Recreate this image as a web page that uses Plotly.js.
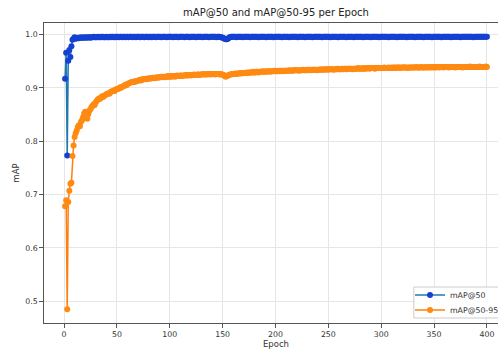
<!DOCTYPE html>
<html>
<head>
<meta charset="utf-8">
<script src="https://cdn.plot.ly/plotly-3.0.1.min.js"></script>
<style>
html,body{margin:0;padding:0;overflow:hidden;background:#fff;}
#wrap{position:relative;width:498px;height:350px;overflow:hidden;}
#chart{position:absolute;left:0;top:0;width:520px;height:350px;}
</style>
</head>
<body>
<div id="wrap"><div id="chart"></div></div>
<script>
const seriesNames = ["mAP@50", "mAP@50-95"];
const xTicks = [0, 50, 100, 150, 200, 250, 300, 350, 400];
const yTicks = [0.5, 0.6, 0.7, 0.8, 0.9, 1.0];

const mAP50 = [
0.917,0.966,0.773,0.951,0.971,0.958,0.978,0.990,0.992,0.995,
0.992,0.993,0.994,0.993,0.994,0.995,0.994,0.994,0.995,0.994,
0.995,0.994,0.995,0.995,0.994,0.995,0.995,0.996,0.995,0.995,
0.995,0.996,0.995,0.995,0.996,0.995,0.996,0.995,0.995,0.996,
0.995,0.995,0.996,0.995,0.996,0.996,0.995,0.996,0.995,0.996,
0.996,0.995,0.996,0.996,0.995,0.996,0.996,0.995,0.996,0.996,
0.995,0.996,0.996,0.996,0.995,0.996,0.996,0.995,0.996,0.996,
0.996,0.995,0.996,0.996,0.996,0.995,0.996,0.996,0.996,0.995,
0.996,0.996,0.995,0.996,0.996,0.996,0.995,0.996,0.996,0.996,
0.996,0.995,0.996,0.996,0.996,0.996,0.995,0.996,0.996,0.996,
0.996,0.996,0.995,0.996,0.996,0.996,0.996,0.995,0.996,0.996,
0.996,0.996,0.996,0.995,0.996,0.996,0.996,0.996,0.995,0.996,
0.996,0.996,0.996,0.996,0.995,0.996,0.996,0.996,0.996,0.996,
0.995,0.996,0.996,0.996,0.996,0.996,0.995,0.996,0.996,0.996,
0.996,0.996,0.996,0.995,0.996,0.996,0.996,0.995,0.995,0.994,
0.993,0.992,0.991,0.991,0.992,0.994,0.995,0.996,0.996,0.996,
0.996,0.996,0.995,0.996,0.996,0.996,0.996,0.996,0.995,0.996,
0.996,0.996,0.996,0.996,0.996,0.995,0.996,0.996,0.996,0.996,
0.996,0.996,0.996,0.995,0.996,0.996,0.996,0.996,0.996,0.996,
0.995,0.996,0.996,0.996,0.996,0.996,0.996,0.995,0.996,0.996,
0.996,0.996,0.996,0.996,0.996,0.995,0.996,0.996,0.996,0.996,
0.996,0.996,0.995,0.996,0.996,0.996,0.996,0.996,0.996,0.996,
0.995,0.996,0.996,0.996,0.996,0.996,0.996,0.995,0.996,0.996,
0.996,0.996,0.996,0.996,0.995,0.996,0.996,0.996,0.996,0.996,
0.996,0.996,0.996,0.995,0.996,0.996,0.996,0.996,0.996,0.996,
0.996,0.995,0.996,0.996,0.996,0.996,0.996,0.996,0.995,0.996,
0.996,0.996,0.996,0.996,0.996,0.996,0.995,0.996,0.996,0.996,
0.996,0.996,0.996,0.995,0.996,0.996,0.996,0.996,0.996,0.996,
0.996,0.996,0.995,0.996,0.996,0.996,0.996,0.996,0.996,0.995,
0.996,0.996,0.996,0.996,0.996,0.996,0.996,0.995,0.996,0.996,
0.996,0.996,0.996,0.996,0.996,0.996,0.995,0.996,0.996,0.996,
0.996,0.996,0.996,0.996,0.995,0.996,0.996,0.996,0.996,0.996,
0.996,0.996,0.996,0.995,0.996,0.996,0.996,0.996,0.996,0.996,
0.996,0.995,0.996,0.996,0.996,0.996,0.996,0.996,0.996,0.995,
0.996,0.996,0.996,0.996,0.996,0.996,0.996,0.995,0.996,0.996,
0.996,0.996,0.996,0.996,0.996,0.996,0.995,0.996,0.996,0.996,
0.996,0.996,0.996,0.996,0.996,0.995,0.996,0.996,0.996,0.996,
0.996,0.996,0.996,0.996,0.995,0.996,0.996,0.996,0.996,0.996,
0.996,0.996,0.996,0.996,0.996,0.996,0.995,0.996,0.996,0.996,
0.996,0.996,0.996,0.996,0.996,0.996,0.996,0.996,0.996,0.996
];

const mAP50_95 = [
0.678,0.689,0.485,0.686,0.707,0.720,0.722,0.772,0.792,0.808,
0.815,0.820,0.826,0.830,0.828,0.836,0.839,0.845,0.852,0.855,
0.846,0.842,0.851,0.857,0.860,0.864,0.866,0.869,0.868,0.873,
0.876,0.878,0.880,0.879,0.882,0.884,0.883,0.885,0.886,0.888,
0.889,0.890,0.889,0.892,0.893,0.894,0.895,0.894,0.897,0.898,
0.898,0.899,0.901,0.900,0.902,0.903,0.904,0.906,0.905,0.907,
0.908,0.909,0.910,0.911,0.911,0.912,0.911,0.913,0.913,0.914,
0.914,0.915,0.914,0.916,0.916,0.916,0.917,0.916,0.917,0.918,
0.917,0.918,0.918,0.919,0.918,0.919,0.919,0.920,0.919,0.920,
0.920,0.921,0.920,0.921,0.921,0.920,0.921,0.922,0.921,0.921,
0.922,0.921,0.922,0.922,0.921,0.922,0.923,0.922,0.922,0.923,
0.923,0.922,0.923,0.923,0.924,0.923,0.923,0.924,0.924,0.923,
0.924,0.924,0.925,0.924,0.924,0.925,0.925,0.924,0.925,0.925,
0.925,0.926,0.925,0.925,0.926,0.925,0.926,0.926,0.925,0.926,
0.926,0.926,0.925,0.926,0.926,0.926,0.925,0.926,0.925,0.925,
0.924,0.922,0.921,0.922,0.923,0.924,0.925,0.925,0.926,0.926,
0.926,0.927,0.926,0.927,0.927,0.927,0.928,0.927,0.928,0.928,
0.928,0.928,0.929,0.928,0.929,0.929,0.929,0.929,0.930,0.929,
0.929,0.930,0.930,0.929,0.930,0.930,0.930,0.931,0.930,0.930,
0.931,0.930,0.931,0.931,0.930,0.931,0.931,0.931,0.932,0.931,
0.931,0.931,0.932,0.931,0.932,0.932,0.931,0.932,0.932,0.932,
0.932,0.932,0.933,0.932,0.932,0.933,0.932,0.933,0.933,0.933,
0.933,0.932,0.933,0.933,0.933,0.934,0.933,0.933,0.933,0.934,
0.933,0.934,0.934,0.933,0.934,0.934,0.934,0.934,0.933,0.934,
0.934,0.934,0.935,0.934,0.934,0.935,0.934,0.935,0.935,0.934,
0.935,0.935,0.935,0.935,0.934,0.935,0.935,0.935,0.936,0.935,
0.935,0.935,0.936,0.935,0.936,0.936,0.935,0.936,0.936,0.936,
0.936,0.936,0.935,0.936,0.936,0.936,0.936,0.937,0.936,0.936,
0.936,0.937,0.936,0.936,0.937,0.936,0.937,0.937,0.936,0.937,
0.937,0.937,0.937,0.936,0.937,0.937,0.937,0.937,0.937,0.937,
0.937,0.937,0.938,0.937,0.937,0.937,0.938,0.937,0.937,0.938,
0.937,0.938,0.938,0.937,0.938,0.938,0.938,0.937,0.938,0.938,
0.938,0.938,0.938,0.938,0.937,0.938,0.938,0.938,0.938,0.938,
0.938,0.938,0.939,0.938,0.938,0.938,0.938,0.939,0.938,0.938,
0.938,0.939,0.938,0.938,0.939,0.938,0.939,0.938,0.939,0.938,
0.939,0.938,0.939,0.939,0.938,0.939,0.939,0.939,0.938,0.939,
0.939,0.939,0.939,0.938,0.939,0.939,0.939,0.939,0.939,0.938,
0.939,0.939,0.939,0.939,0.939,0.939,0.938,0.939,0.939,0.939,
0.939,0.939,0.939,0.940,0.939,0.939,0.939,0.939,0.939,0.939,
0.939,0.939,0.940,0.939,0.939,0.939,0.939,0.939,0.940,0.939
];

const epochs = mAP50.map((_, i) => i + 1);

const font = "DejaVu Sans, sans-serif";

const traces = [
  {
    x: epochs, y: mAP50, name: seriesNames[0], type: "scatter", mode: "lines+markers",
    line: {color: "#1f77b4", width: 1.5},
    marker: {color: "#1441d0", size: 6},
    legend: "legend"
  },
  {
    x: epochs, y: mAP50_95, name: seriesNames[1], type: "scatter", mode: "lines+markers",
    line: {color: "#ff7f0e", width: 1.5},
    marker: {color: "#ff8a12", size: 6},
    legend: "legend2"
  }
];

const axisCommon = {
  showline: true, mirror: true, linecolor: "#555", linewidth: 1.2,
  ticks: "outside", ticklen: 3.5, tickcolor: "#555", tickwidth: 1,
  showgrid: true, gridcolor: "#e6e6e6", gridwidth: 1,
  zeroline: false,
  tickfont: {family: font, size: 7.8, color: "#333"}
};

const legendCommon = {
  xanchor: "left", yanchor: "middle",
  bgcolor: "rgba(0,0,0,0)", borderwidth: 0,
  font: {family: font, size: 7.8, color: "#333"}
};

const layout = {
  width: 520, height: 350,
  margin: {l: 44, r: 12, t: 23, b: 27, autoexpand: false},
  paper_bgcolor: "#fff", plot_bgcolor: "#fff",
  title: {text: "mAP@50 and mAP@50-95 per Epoch", font: {family: font, size: 10, color: "#222"},
          x: 0.5, xref: "paper", y: 0.963, yref: "container", yanchor: "middle"},
  xaxis: Object.assign({}, axisCommon, {
    range: [-18.95, 419.95], tickvals: xTicks,
    title: {text: "Epoch", font: {family: font, size: 8.5, color: "#333"}, standoff: 3}
  }),
  yaxis: Object.assign({}, axisCommon, {
    range: [0.459, 1.0216], tickvals: yTicks, tickformat: ".1f",
    title: {text: "mAP", font: {family: font, size: 8.5, color: "#333"}, standoff: 4}
  }),
  showlegend: true,
  shapes: [{
    type: "rect", xref: "paper", yref: "paper", layer: "above",
    x0: 0.797, x1: 1.05, y0: 0.0167, y1: 0.12,
    fillcolor: "rgba(255,255,255,0.9)", line: {color: "#cccccc", width: 1}
  }],
  legend: Object.assign({}, legendCommon, {x: 0.7888, y: 0.0933}),
  legend2: Object.assign({}, legendCommon, {x: 0.7888, y: 0.0433})
};

Plotly.newPlot("chart", traces, layout, {displayModeBar: false, staticPlot: true});
</script>
</body>
</html>
